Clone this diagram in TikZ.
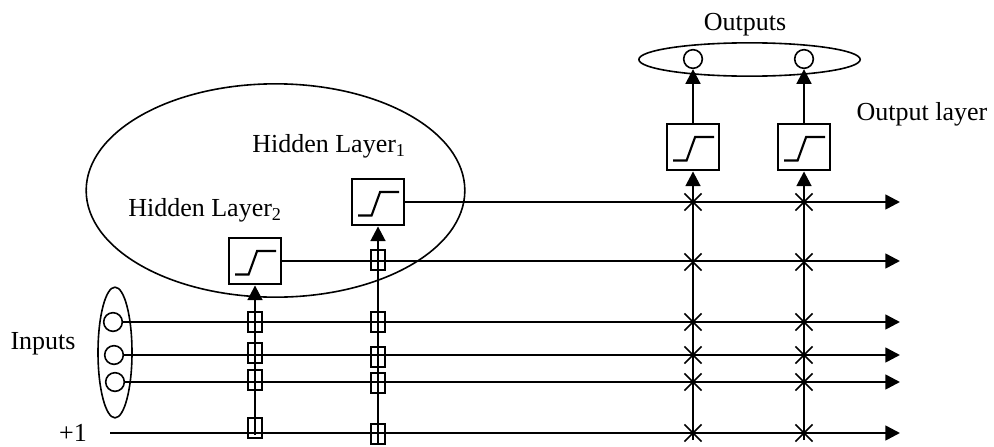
\documentclass[tikz,border=0pt]{standalone}
\usepackage{fontspec}
\setmainfont{Liberation Serif}
\usetikzlibrary{arrows.meta,shapes.misc,shapes.geometric}
\begin{document}
\begin{tikzpicture}[x=0.75pt,y=-0.75pt,
 font=\fontsize{19.5}{23}\selectfont,
 wire/.style={line width=1.9pt},
 arr/.style={wire,-{Triangle[length=11pt,width=11pt]}},
 actbox/.style={draw,fill=white,line width=1.6pt,minimum width=39pt,minimum height=35pt,inner sep=0pt,
   path picture={\draw[line width=1.6pt] ([shift={(-19.8,13.5)}]path picture bounding box.center) -- ++(13.4,0) -- ++(8.5,-23.5) -- ++(19.1,0);}},
 unit/.style={draw,circle,line width=1.2pt,minimum size=14pt,inner sep=0pt},
 grp/.style={draw,ellipse,line width=1.2pt,inner sep=0pt},
 sq/.style={draw,line width=1.4pt,minimum width=11pt,minimum height=15pt,inner sep=0pt},
 xm/.style={draw,cross out,line width=1.3pt,minimum size=11.5pt,inner sep=0pt},
 lbl/.style={anchor=base,inner sep=0pt}]
\useasboundingbox (0,0) rectangle (994,446);

% group ellipses
\node[grp,minimum width=284pt,minimum height=160pt] (hid) at (275.5,190.5) {};
\node[grp,minimum width=25.5pt,minimum height=98pt] (inp) at (115,352.5) {};
\node[grp,minimum width=166pt,minimum height=25pt] (outp) at (749.5,59.5) {};

% units
\node[unit] (i1) at (113,322) {};
\node[unit] (i2) at (114,355) {};
\node[unit] (i3) at (115,382) {};
\node[unit] (oc1) at (693,59) {};
\node[unit] (oc2) at (804,59) {};

% activation boxes
\node[actbox] (h1) at (378,202) {};
\node[actbox] (h2) at (255,261) {};
\node[actbox] (o1) at (693,147) {};
\node[actbox] (o2) at (804,147) {};

% line ends
\coordinate (eh1) at (900,202);
\coordinate (eh2) at (900,261);
\coordinate (e1) at (900,322);
\coordinate (e2) at (900,355);
\coordinate (e3) at (900,382);
\coordinate (b0) at (110,433);
\coordinate (eb) at (900,433);
\coordinate (v2b) at (255,435);
\coordinate (v1b) at (378,444);
\coordinate (vo1b) at (693,440);
\coordinate (vo2b) at (804,440);

% horizontal wires
\draw[arr] (h1.east) -- (eh1);
\draw[arr] (h2.east) -- (eh2);
\draw[arr] (i1.east) -- (e1);
\draw[arr] (i2.east) -- (e2);
\draw[arr] (i3.east) -- (e3);
\draw[arr] (b0) -- (eb);

% vertical wires
\draw[arr] (v2b) -- (h2.south);
\draw[arr] (v1b) -- (h1.south);
\draw[arr] (vo1b) -- (o1.south);
\draw[arr] (vo2b) -- (o2.south);
\draw[arr] (o1.north) -- (oc1.south);
\draw[arr] (o2.north) -- (oc2.south);

% weight markers
\foreach \y [count=\k] in {322,353,380,428} \node[sq] (sa\k) at (255,\y) {};
\foreach \y [count=\k] in {260,322,357,383,434} \node[sq] (sb\k) at (378,\y) {};
\foreach \y [count=\k] in {202,262,322,355,382,433} {
  \node[xm] (xa\k) at (693,\y) {};
  \node[xm] (xb\k) at (804,\y) {};
}

% labels
\node[lbl] (tH1) at (329,152) {Hidden Layer\textsubscript{1}};
\node[lbl] (tH2) at (205,216) {Hidden Layer\textsubscript{2}};
\node[lbl] (tOut) at (745,30) {Outputs};
\node[lbl] (tOL) at (922,120) {Output layer};
\node[lbl] (tIn) at (43,349) {Inputs};
\node[lbl] (tB) at (73,441) {+1};
\end{tikzpicture}
\end{document}
